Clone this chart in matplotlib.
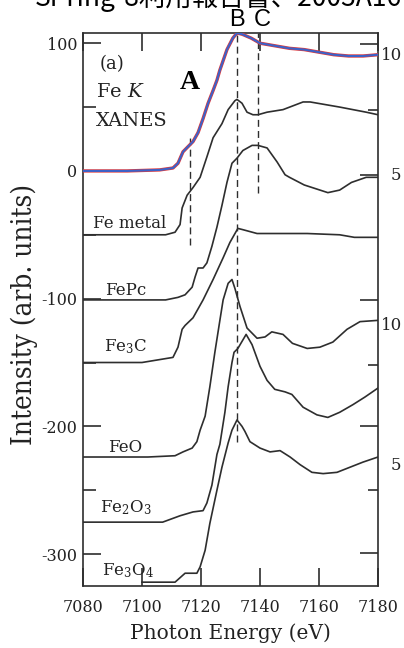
import matplotlib
matplotlib.use("Agg")
import matplotlib.pyplot as plt

plt.rcParams['font.family'] = ['DejaVu Serif']
plt.rcParams['mathtext.fontset'] = 'dejavuserif'
plt.rcParams['axes.unicode_minus'] = False

# ---- data (energy in eV, intensity in arb. units, already offset) ----
sample_E = [7080, 7095, 7106, 7110.5, 7112.2, 7113.9, 7115.6, 7117.3, 7119, 7120.7, 7122.4,
            7124.1, 7125.4, 7126.4, 7128.8, 7130.8, 7132.2, 7134, 7137, 7140, 7145, 7150,
            7155, 7160, 7165, 7170, 7175, 7180]
sample_I = [0, 0, 0.8, 2.3, 6, 15, 19, 23, 30, 41, 53, 63, 71, 79, 95, 104, 108, 107, 104,
            100, 98, 96, 95, 93, 91, 90, 90, 91]

femetal_E = [7080, 7108, 7111.2, 7112.9, 7113.6, 7115.3, 7117.3, 7119.7, 7122, 7124.1, 7127.1,
             7129.2, 7131.5, 7132.2, 7133.9, 7135.6, 7137.6, 7139.3, 7142.4, 7147.8, 7154.6,
             7157, 7167, 7176, 7180]
femetal_I = [-50, -50, -48, -42, -29, -19, -13, -5, 11, 26, 37, 48, 55, 56, 53, 46, 44, 44, 46,
             48, 54, 54, 50, 46, 44]

fepc_E = [7080, 7108, 7112.2, 7114.6, 7117, 7118, 7119, 7120.7, 7122, 7123.7, 7125.4, 7127.1,
          7128.8, 7130.5, 7132.2, 7134.2, 7137.3, 7139.3, 7142.4, 7145.8, 7148.5, 7150,
          7155, 7159, 7163, 7167, 7171, 7176, 7180]
fepc_I = [-101, -101, -99, -97, -91, -83, -76, -76, -72, -59, -44, -27, -9, 6, 10, 16, 20, 20,
          18, 7, -3, -5, -11, -14, -17, -15, -9, -5, -5]

fe3c_E = [7080, 7100, 7110.5, 7112.2, 7113.6, 7114.6, 7117.3, 7120.7, 7124.1, 7127.5, 7129.8,
          7132.5, 7134.2, 7139, 7145, 7156, 7167, 7172, 7180]
fe3c_I = [-150, -150, -146, -138, -124, -121, -115, -101, -85, -68, -56, -45, -46, -49, -49,
          -49, -50, -52, -52]

feo_E = [7080, 7102, 7111.2, 7113.9, 7117, 7118.6, 7119.7, 7121.4, 7123, 7124.7, 7126.4,
         7127.5, 7129.2, 7130.5, 7131.5, 7133.2, 7135.6, 7139, 7141.7, 7144, 7147.8, 7151,
         7156, 7160.3, 7164.7, 7169.5, 7173.9, 7180]
feo_I = [-224, -224, -223, -220, -217, -212, -203, -192, -169, -142, -117, -101, -88, -85, -92,
         -106, -123, -131, -130, -126, -128, -135, -139, -138, -134, -124, -118, -117]

fe2o3_E = [7080, 7107, 7112.9, 7117.3, 7120.7, 7122, 7123.7, 7125.4, 7126.4, 7128.1, 7129.2,
           7130.5, 7131.2, 7132.5, 7135.3, 7137.3, 7140, 7142.4, 7145, 7148.5, 7150.8,
           7154.6, 7159.3, 7163, 7167, 7171.5, 7175.6, 7180]
fe2o3_I = [-275, -275, -270, -267, -266, -260, -246, -222, -214, -189, -169, -150, -142, -139,
           -128, -136, -153, -164, -171, -173, -175, -185, -191, -193, -189, -183, -177, -170]

fe3o4_E = [7100, 7111.2, 7114.6, 7117, 7118.6, 7119.7, 7121.4, 7123, 7125.4, 7127.1, 7129.2,
           7130.5, 7132.2, 7133.9, 7134.9, 7136.6, 7140, 7143.4, 7146.8, 7150.2, 7153.6,
           7157.6, 7161.4, 7166.1, 7170.5, 7174.9, 7180]
fe3o4_I = [-322, -322, -315, -315, -315, -310, -297, -276, -250, -232, -213, -203, -195, -200,
           -204, -212, -217, -220, -219, -224, -230, -236, -237, -236, -232, -228, -224]

ref_labels = ['Fe metal', 'FePc', 'Fe$_3$C', 'FeO', 'Fe$_2$O$_3$', 'Fe$_3$O$_4$']
ref_label_x = [7083.3, 7087.5, 7087, 7088.5, 7085.8, 7086.5]
ref_label_y = [-45, -97, -141, -220, -267, -317]

marker_E = [7116.3, 7132.2, 7139.3]        # A, B, C
marker_bottom = [-58, -212, -17]
marker_top = [28, 108, 108]

xticks = [7080, 7100, 7120, 7140, 7160, 7180]
yticks = [100, 0, -100, -200, -300]
yminor = [50, -50, -150, -250]
right_major = [99, -3, -101, -200, -299]
right_minor = [48, -152, -250]

# ---- figure ----
W, H = 404, 648
fig = plt.figure(figsize=(W / 100, H / 100), dpi=100)
ax = fig.add_axes([83 / W, 1 - 586 / H, 295 / W, 553 / H])
ax.set_xlim(7080, 7180)
ax.set_ylim(-325, 108)

ink = '#2e2e2e'
ax.plot(sample_E, sample_I, color='#e23a3a', lw=2.4, zorder=3)
ax.plot(sample_E, sample_I, color='#3c62c8', lw=1.5, zorder=4)
for E, I in [(femetal_E, femetal_I), (fepc_E, fepc_I), (fe3c_E, fe3c_I),
             (feo_E, feo_I), (fe2o3_E, fe2o3_I), (fe3o4_E, fe3o4_I)]:
    ax.plot(E, I, color=ink, lw=1.2, zorder=2)

for e, b, t in zip(marker_E, marker_bottom, marker_top):
    ax.plot([e, e], [b, t], color=ink, lw=1.0, ls=(0, (5, 3)), zorder=1)

for lab, x, y in zip(ref_labels, ref_label_x, ref_label_y):
    ax.text(x, y, lab, fontsize=12, color='#222222', ha='left', va='baseline')

ax.text(7085.5, 84, '(a)', fontsize=13, color='#222222', va='center')
ax.text(7084.5, 62, 'Fe $K$', fontsize=14, color='#222222', va='center')
ax.text(7084.5, 39, 'XANES', fontsize=14, color='#222222', va='center')
ax.text(7116.3, 69, 'A', fontsize=20, color='black', fontfamily='Liberation Serif',
        fontweight='bold', ha='center', va='center')

ax.set_xticks(xticks)
ax.set_yticks(yticks)
ax.set_yticks(yminor, minor=True)
ax.tick_params(axis='both', which='major', direction='in', length=13, width=1.2,
               labelsize=11.5, colors=ink, labelcolor='#222222', top=True, right=False)
ax.tick_params(axis='y', which='minor', direction='in', length=9, width=1.2, colors=ink,
               right=False)
ax.tick_params(axis='x', pad=9)
ax.tick_params(axis='y', pad=4)
for s in ax.spines.values():
    s.set_color(ink)
    s.set_linewidth(1.2)

ax2 = ax.twinx()
ax2.set_ylim(ax.get_ylim())
ax2.set_yticks(right_major)
ax2.set_yticks(right_minor, minor=True)
ax2.tick_params(axis='y', which='major', direction='in', length=13, width=1.2,
                labelright=False, colors=ink)
ax2.tick_params(axis='y', which='minor', direction='in', length=7, width=1.2, colors=ink)
for s in ax2.spines.values():
    s.set_visible(False)

ax.set_xlabel('Photon Energy (eV)', fontsize=14.5, color='#222222', labelpad=6)
ax.set_ylabel('Intensity (arb. units)', fontsize=20, fontstretch='condensed',
              color='#222222', va='center')
ax.yaxis.set_label_coords(-(83 - 24) / 295, (586 - 314) / 553)

# right-hand scale labels (clipped by the scan edge)
for txt, px, py in [('10', 381, 55), ('5', 391, 175), ('10', 381, 326), ('5', 391, 466)]:
    fig.text(px / W, 1 - py / H, txt, fontsize=12, color='#222222', ha='left', va='center')

# peak markers above the frame
fig.text(237 / W, 1 - 20 / H, 'B', fontsize=17, family='Liberation Sans', ha='center',
         va='center', color='black')
fig.text(262 / W, 1 - 20 / H, 'C', fontsize=17, family='Liberation Sans', ha='center',
         va='center', color='black')

# cut-off header of the scanned page
fig.text(35 / W, 1 - 6 / H, 'SPring-8利用報告書、2003A16',
         fontsize=19, family=['Noto Sans CJK JP', 'DejaVu Sans'], ha='left', va='baseline',
         color='black')

fig.savefig('out.png', dpi=100)
